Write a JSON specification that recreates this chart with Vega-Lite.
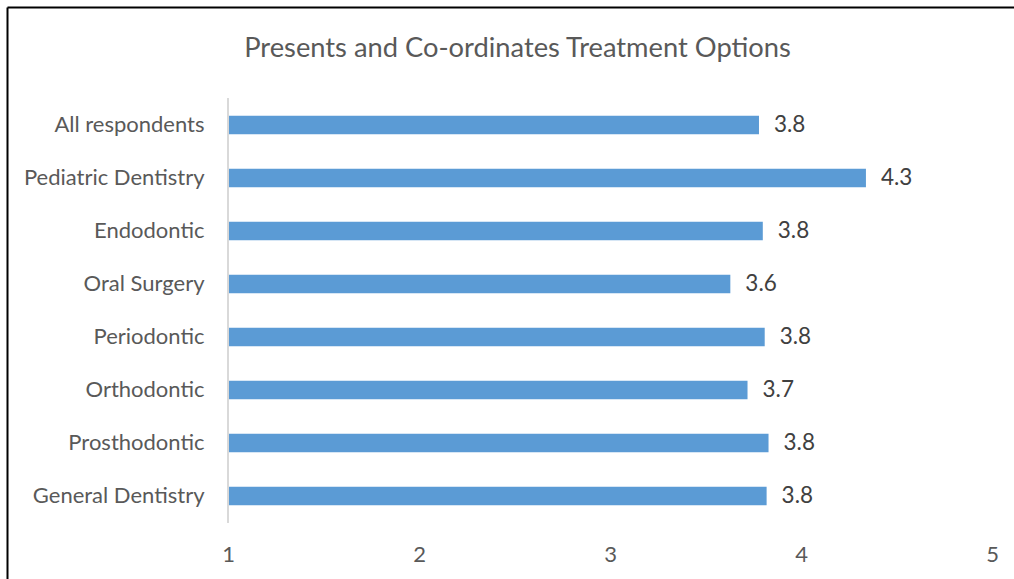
{
  "$schema": "https://vega.github.io/schema/vega-lite/v6.json",
  "width": 1007,
  "height": 572,
  "autosize": {"type": "none"},
  "padding": {"left": 7, "top": 7, "right": 0, "bottom": 0},
  "background": "white",
  "title": {
    "text": "Presents and Co-ordinates Treatment Options",
    "frame": "group",
    "anchor": "middle",
    "orient": "top",
    "offset": -77.4,
    "baseline": "alphabetic",
    "dx": 7,
    "font": "Lato",
    "fontSize": 27.3,
    "fontWeight": "normal",
    "color": "#595959"
  },
  "config": {"view": {"stroke": null}, "axis": {"grid": false}},
  "data": {
    "values": [
      {"category": "All respondents", "value": 3.78},
      {"category": "Pediatric Dentistry", "value": 4.34},
      {"category": "Endodontic", "value": 3.80},
      {"category": "Oral Surgery", "value": 3.63},
      {"category": "Periodontic", "value": 3.81},
      {"category": "Orthodontic", "value": 3.72},
      {"category": "Prosthodontic", "value": 3.83},
      {"category": "General Dentistry", "value": 3.82}
    ]
  },
  "layer": [
    {
      "mark": {"type": "bar", "color": "#5B9BD5"},
      "encoding": {
        "y": {
          "field": "category",
          "type": "nominal",
          "sort": null,
          "scale": {
            "domain": ["pad-top", "All respondents", "Pediatric Dentistry", "Endodontic", "Oral Surgery", "Periodontic", "Orthodontic", "Prosthodontic", "General Dentistry", "pad-bottom"],
            "paddingInner": 0.651,
            "paddingOuter": 0.7205,
            "align": 0.729
          },
          "axis": {
            "orient": "left",
            "title": null,
            "domain": true,
            "domainColor": "#000000",
            "domainWidth": 2,
            "ticks": false,
            "tickSize": 0,
            "labelPadding": -197,
            "labelAlign": "right",
            "labelBaseline": "middle",
            "labelLimit": 0,
            "labelExpr": "indexof(['pad-top','pad-bottom'], datum.value) >= 0 ? '' : datum.value",
            "labelFont": "Lato",
            "labelFontSize": 22,
            "labelColor": "#595959"
          }
        },
        "x": {
          "field": "value",
          "type": "quantitative",
          "scale": {"domain": [-0.15707, 5.11518], "nice": false, "zero": false},
          "axis": {
            "orient": "top",
            "title": null,
            "values": [1, 2, 3, 4, 5],
            "format": "d",
            "domain": true,
            "domainColor": "#000000",
            "domainWidth": 2,
            "ticks": false,
            "tickSize": 0,
            "labelPadding": -554,
            "labelBaseline": "alphabetic",
            "labelFlush": false,
            "labelFont": "Lato",
            "labelFontSize": 22,
            "labelColor": "#595959",
            "grid": false
          }
        },
        "x2": {"datum": 1}
      }
    },
    {
      "mark": {"type": "rule", "color": "#D9D9D9", "strokeWidth": 1.5, "yOffset": -26.5, "y2Offset": 26.5},
      "encoding": {
        "x": {"datum": 1, "type": "quantitative"},
        "y": {"datum": "All respondents", "type": "nominal"},
        "y2": {"datum": "General Dentistry"}
      }
    },
    {
      "mark": {"type": "text", "align": "left", "baseline": "middle", "dx": 15, "font": "Lato", "fontSize": 22.5, "color": "#404040"},
      "encoding": {
        "y": {"field": "category", "type": "nominal", "sort": null},
        "x": {"field": "value", "type": "quantitative"},
        "text": {"field": "value", "type": "quantitative", "format": ".1f"}
      }
    }
  ]
}
